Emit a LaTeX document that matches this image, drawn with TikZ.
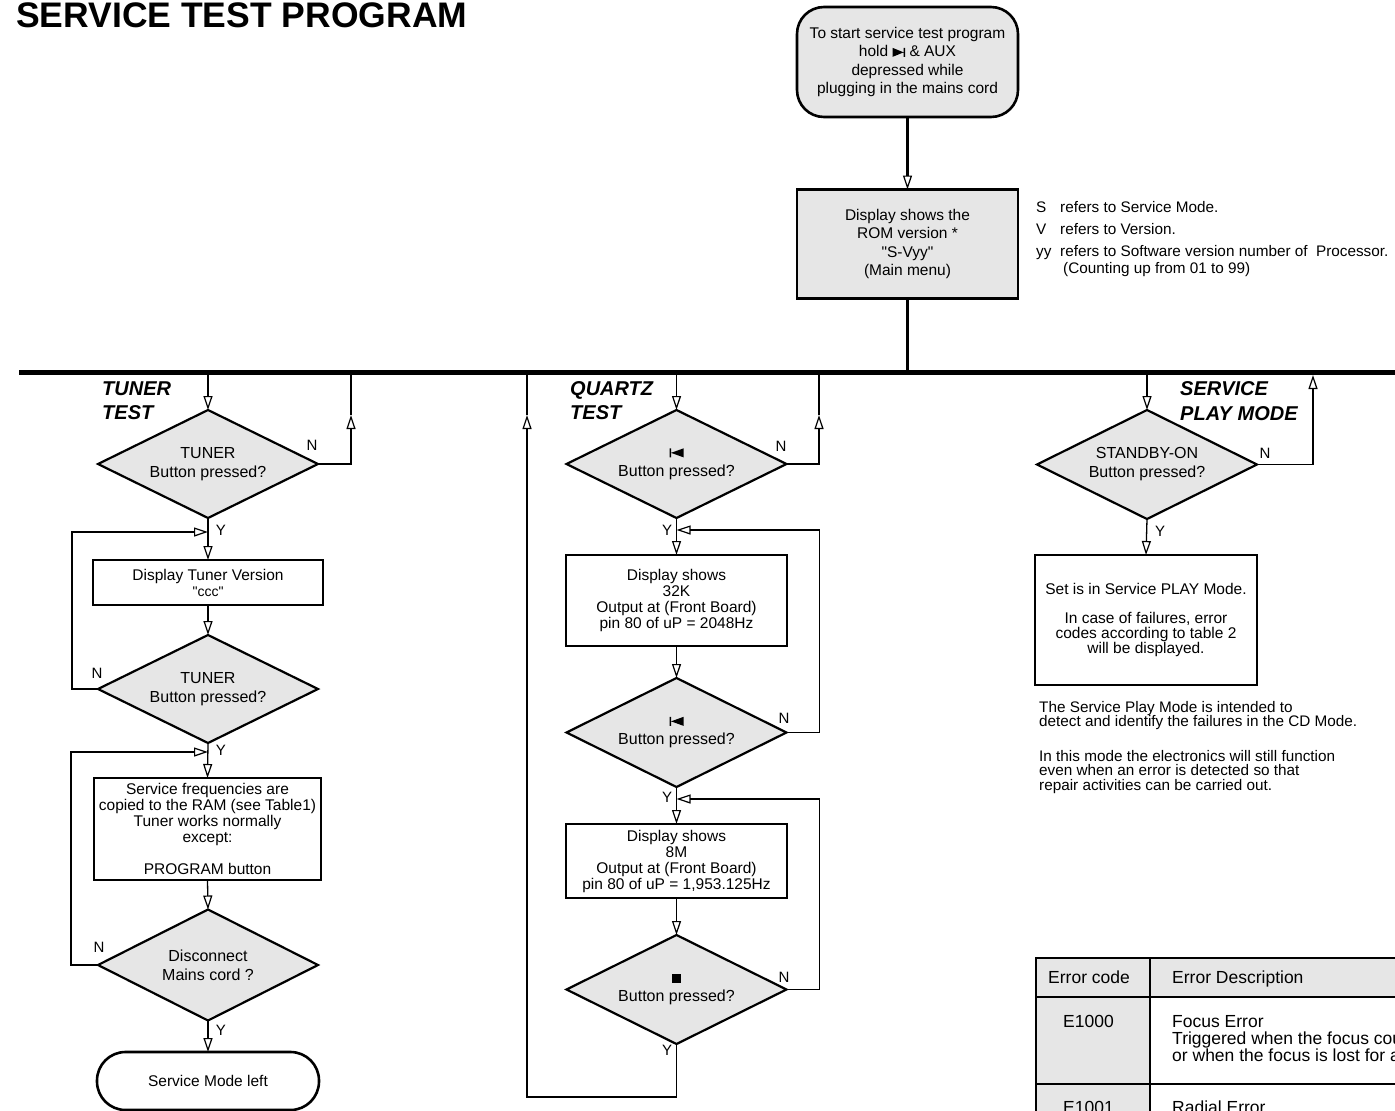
\documentclass[tikz,border=0pt]{standalone}
\usepackage{fontspec}
\setmainfont{Liberation Sans}[Ligatures=TeXOff]
\usetikzlibrary{arrows.meta,shapes.geometric}
\definecolor{boxgray}{RGB}{230,230,230}
\newcommand\FontTitle{\fontsize{35.5}{40}\selectfont\bfseries}
\newcommand\FontHead{\fontsize{20}{24}\selectfont\bfseries\itshape}
\newcommand\FontBox{\fontsize{15.5}{16}\selectfont}
\newcommand\FontStart{\fontsize{15.5}{18.3}\selectfont}
\newcommand\FontDia{\fontsize{16}{19}\selectfont}
\newcommand\FontNote{\fontsize{15.3}{18}\selectfont}
\newcommand\FontPara{\fontsize{15.3}{14.5}\selectfont}
\newcommand\FontTab{\fontsize{17.5}{17}\selectfont}
\newcommand\FontLbl{\fontsize{15}{18}\selectfont}
\newcommand\FontSmall{\fontsize{14}{15}\selectfont}
\newsavebox\symnext
\newsavebox\symprev
\newsavebox\symstop
\begin{document}
\sbox\symnext{\begin{pgfpicture}%
  \pgfpathmoveto{\pgfpoint{0pt}{0pt}}\pgfpathlineto{\pgfpoint{0pt}{9pt}}\pgfpathlineto{\pgfpoint{11pt}{4.5pt}}\pgfpathclose
  \pgfpathrectangle{\pgfpoint{11pt}{0pt}}{\pgfpoint{1.6pt}{9pt}}\pgfusepath{fill}\end{pgfpicture}}
\sbox\symprev{\begin{pgfpicture}%
  \pgfpathrectangle{\pgfpoint{0pt}{0pt}}{\pgfpoint{1.6pt}{9pt}}
  \pgfpathmoveto{\pgfpoint{14pt}{0pt}}\pgfpathlineto{\pgfpoint{14pt}{9pt}}\pgfpathlineto{\pgfpoint{1.6pt}{4.5pt}}\pgfpathclose
  \pgfusepath{fill}\end{pgfpicture}}
\sbox\symstop{\begin{pgfpicture}%
  \pgfpathrectangle{\pgfpoint{0pt}{0pt}}{\pgfpoint{9pt}{9pt}}\pgfusepath{fill}\end{pgfpicture}}
\begin{tikzpicture}[x=1pt,y=-1pt,
  conn/.style={line width=1.3pt},
  arr/.style={-{Triangle[open,length=14pt,width=9pt,line width=1.2pt]}},
  proc/.style={draw, line width=2.6pt, rectangle, inner sep=0pt, outer sep=0pt, align=center, font=\FontBox},
  grayproc/.style={proc, fill=boxgray},
  dec/.style={draw, diamond, fill=boxgray, line width=2.2pt, aspect=2, inner sep=0pt, outer sep=0pt,
              align=center, font=\FontDia, minimum width=220pt, minimum height=108pt},
  lbl/.style={inner sep=0pt, font=\FontLbl},
  head/.style={inner sep=0pt, anchor=base west, font=\FontHead},
  note/.style={inner sep=0pt, anchor=base west, font=\FontNote},
  para/.style={inner sep=0pt, anchor=north west, align=left, font=\FontPara},
  tab/.style={inner sep=0pt, anchor=base west, font=\FontTab}]
\useasboundingbox (0,0) rectangle (1395,1111);

% title
\node[inner sep=0pt, anchor=base west, font=\FontTitle] (title) at (16,27.5) {SERVICE TEST PROGRAM};

% start and main menu
\node[grayproc, font=\FontStart, rounded corners=27pt, minimum width=221pt, minimum height=110pt] (start) at (907.5,62)
  {To start service test program\\hold \usebox\symnext\ \& AUX\\depressed while\\plugging in the mains cord};
\node[grayproc, font=\FontStart, minimum width=221pt, minimum height=109pt] (disp) at (907.5,244)
  {Display shows the\\ROM version *\\"S-Vyy"\\(Main menu)};
\draw[line width=3pt, arr] (start.south) -- (disp.north);

% notes
\node[note] (nS) at (1036,212) {S};
\node[note] (nSt) at (1060,212) {refers to Service Mode.};
\node[note] (nV) at (1036,234) {V};
\node[note] (nVt) at (1060,234) {refers to Version.};
\node[note] (nY) at (1036,256) {yy};
\node[note] (nYt) at (1060,256) {refers to Software version number of\ \ Processor.};
\node[note] (nC) at (1063,273) {(Counting up from 01 to 99)};

% bus
\coordinate (busL) at (19,372);
\coordinate (busR) at (1395,372);
\coordinate (bMain) at (907.5,372);
\draw[line width=3pt] (disp.south) -- (bMain);
\draw[line width=5pt] (busL) -- (busR);

% ---------------- TUNER TEST ----------------
\node[head] (hT1) at (102,395) {TUNER};
\node[head] (hT2) at (102,419) {TEST};
\node[dec] (d1) at (208,464) {TUNER\\Button pressed?};
\node[proc, minimum width=230pt, minimum height=45pt] (b1) at (208,582.5)
  {Display Tuner Version\\{\FontSmall "ccc"}};
\node[dec] (d2) at (208,689) {TUNER\\Button pressed?};
\node[proc, minimum width=227pt, minimum height=102pt] (b2) at (207.5,829)
  {Service frequencies are\\copied to the RAM (see Table1)\\Tuner works normally\\except:\\[16pt]PROGRAM button};
\node[dec, minimum height=111pt] (d3) at (208,965) {Disconnect\\Mains cord ?};
\node[proc, fill=white, rounded corners=28.5pt, minimum width=222pt, minimum height=58pt] (term) at (208,1081)
  {Service Mode left};

\coordinate (bT) at (208,372);
\coordinate (tN1) at (351,415);
\coordinate (bTn) at (351,372);
\coordinate (jT1) at (208,532);
\coordinate (jT2) at (208,752);
\draw[conn,arr] (bT) -- (d1.north);
\draw[conn,arr] (d1.east) -| (tN1);
\draw[conn] (tN1) -- (bTn);
\draw[conn,arr] (d1.south) -- (b1.north);
\draw[conn,arr] (b1.south) -- (d2.north);
\draw[conn,arr] (d2.west) -- ++(-26,0) |- (jT1);
\draw[conn,arr] (d2.south) -- (b2.north);
\draw[conn,arr] (b2.south) -- (d3.north);
\draw[conn,arr] (d3.west) -- ++(-27,0) |- (jT2);
\draw[conn,arr] (d3.south) -- (term.north);

\node[lbl] (nT1) at (312,445) {N};
\node[lbl] (yT1) at (221,530) {Y};
\node[lbl] (nT2) at (97,673) {N};
\node[lbl] (yT2) at (221,750) {Y};
\node[lbl] (nT3) at (99,947) {N};
\node[lbl] (yT3) at (221,1030) {Y};

% ---------------- QUARTZ TEST ----------------
\node[head] (hQ1) at (570,395) {QUARTZ};
\node[head] (hQ2) at (570,419) {TEST};
\node[dec] (dq1) at (676.5,464) {\usebox\symprev\\Button pressed?};
\node[proc, minimum width=221pt, minimum height=91pt] (bq1) at (676.5,600.5)
  {Display shows\\32K\\Output at (Front Board)\\pin 80 of uP = 2048Hz};
\node[dec, minimum height=109pt] (dq2) at (676.5,732.5) {\usebox\symprev\\Button pressed?};
\node[proc, minimum width=221pt, minimum height=74pt] (bq2) at (676.5,861)
  {Display shows\\8M\\Output at (Front Board)\\pin 80 of uP = 1,953.125Hz};
\node[dec, minimum height=109pt] (dq3) at (676.5,989.5) {\usebox\symstop\\Button pressed?};

\coordinate (bQ) at (676.5,372);
\coordinate (qN1) at (819,415);
\coordinate (bQn) at (819,372);
\coordinate (jQ1) at (676.5,530);
\coordinate (jQ2) at (676.5,799);
\coordinate (qR) at (527,415);
\coordinate (bQr) at (527,372);
\draw[conn,arr] (bQ) -- (dq1.north);
\draw[conn,arr] (dq1.east) -| (qN1);
\draw[conn] (qN1) -- (bQn);
\draw[conn,arr] (dq1.south) -- (bq1.north);
\draw[conn,arr] (bq1.south) -- (dq2.north);
\draw[conn,arr] (dq2.east) -- ++(33,0) |- (jQ1);
\draw[conn,arr] (dq2.south) -- (bq2.north);
\draw[conn,arr] (bq2.south) -- (dq3.north);
\draw[conn,arr] (dq3.east) -- ++(33,0) |- (jQ2);
\draw[conn,arr] (dq3.south) -- ++(0,53) -| (qR);
\draw[conn] (qR) -- (bQr);

\node[lbl] (nQ1) at (781,446) {N};
\node[lbl] (yQ1) at (667,530) {Y};
\node[lbl] (nQ2) at (784,718) {N};
\node[lbl] (yQ2) at (667,797) {Y};
\node[lbl] (nQ3) at (784,977) {N};
\node[lbl] (yQ3) at (667,1050) {Y};

% ---------------- SERVICE PLAY MODE ----------------
\node[head] (hS1) at (1180,395) {SERVICE};
\node[head] (hS2) at (1180,420) {PLAY MODE};
\node[dec, minimum height=109pt] (ds) at (1147,464.5) {STANDBY-ON\\Button pressed?};
\node[proc, font=\fontsize{15.5}{15}\selectfont, minimum width=222pt, minimum height=130pt] (bs) at (1146,620)
  {Set is in Service PLAY Mode.\\[14pt]In case of failures, error\\codes according to table 2\\will be displayed.};

\coordinate (bS) at (1147,372);
\coordinate (sN) at (1313,375);
\draw[conn,arr] (bS) -- (ds.north);
\draw[conn,arr] (ds.east) -| (sN);
\draw[conn,arr] (ds.south) -- (bs.north);

\node[lbl] (nS1) at (1265,453) {N};
\node[lbl] (yS1) at (1160,531) {Y};

\node[para] (p1) at (1039,701)
  {The Service Play Mode is intended to\\detect and identify the failures in the CD Mode.};
\node[para] (p2) at (1039,750)
  {In this mode the electronics will still function\\even when an error is detected so that\\repair activities can be carried out.};

% ---------------- error table ----------------
\fill[boxgray] (1036,958) rectangle (1400,997);
\fill[boxgray] (1036,997) rectangle (1150,1115);
\draw[line width=2.6pt] (1036,1115) -- (1036,958) -- (1400,958);
\draw[line width=2.6pt] (1036,997) -- (1400,997);
\draw[line width=2.6pt] (1150,958) -- (1150,1115);
\draw[line width=2.6pt] (1036,1084) -- (1400,1084);
\node[tab] (tc1) at (1048,983) {Error code};
\node[tab] (tc2) at (1172,983) {Error Description};
\node[tab] (tc3) at (1063,1027) {E1000};
\node[tab] (tc4) at (1172,1027) {Focus Error};
\node[tab] (tc5) at (1172,1044) {Triggered when the focus cou};
\node[tab] (tc6) at (1172,1061) {or when the focus is lost for a};
\node[tab] (tc7) at (1063,1113) {E1001};
\node[tab] (tc8) at (1172,1113) {Radial Error};
\end{tikzpicture}
\end{document}
